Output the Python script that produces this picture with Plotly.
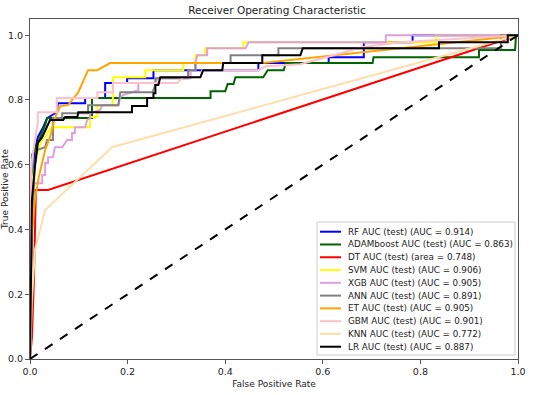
import plotly.graph_objects as go

# ---- data ----
rf_fpr = [0, 0.002, 0.006, 0.010, 0.016, 0.027, 0.035, 0.055, 0.057, 0.113, 0.113, 0.154, 0.154, 0.199, 0.199, 0.253, 0.253, 0.468, 0.468, 0.612, 0.612, 0.684, 0.684, 0.784, 0.784, 1.0]
rf_tpr = [0, 0.306, 0.491, 0.645, 0.685, 0.716, 0.744, 0.762, 0.790, 0.790, 0.806, 0.806, 0.852, 0.852, 0.867, 0.867, 0.892, 0.892, 0.914, 0.914, 0.932, 0.932, 0.978, 0.978, 1.0, 1.0]

ada_fpr = [0, 0.002, 0.004, 0.010, 0.031, 0.035, 0.127, 0.127, 0.370, 0.370, 0.400, 0.405, 0.417, 0.421, 0.478, 0.487, 0.520, 0.524, 0.702, 0.704, 0.920, 0.920, 0.994, 0.996, 1.0]
ada_tpr = [0, 0.336, 0.630, 0.645, 0.722, 0.744, 0.744, 0.806, 0.806, 0.827, 0.827, 0.849, 0.849, 0.870, 0.870, 0.892, 0.892, 0.914, 0.914, 0.932, 0.932, 0.954, 0.954, 1.0, 1.0]

dt_fpr = [0, 0.004, 0.008, 0.012, 0.037, 1.0]
dt_tpr = [0, 0.068, 0.244, 0.522, 0.522, 1.0]

svm_fpr = [0, 0.002, 0.004, 0.006, 0.014, 0.021, 0.031, 0.037, 0.045, 0.123, 0.123, 0.138, 0.138, 0.170, 0.170, 0.236, 0.236, 0.314, 0.314, 0.339, 0.339, 0.359, 0.359, 0.437, 0.437, 0.832, 0.832, 1.0]
svm_tpr = [0, 0.244, 0.491, 0.562, 0.623, 0.667, 0.685, 0.701, 0.716, 0.716, 0.747, 0.747, 0.784, 0.784, 0.870, 0.870, 0.892, 0.892, 0.914, 0.914, 0.938, 0.938, 0.960, 0.960, 0.978, 0.978, 1.0, 1.0]

xgb_fpr = [0, 0.002, 0.004, 0.025, 0.025, 0.031, 0.031, 0.037, 0.037, 0.047, 0.051, 0.066, 0.076, 0.086, 0.086, 0.092, 0.092, 0.113, 0.117, 0.123, 0.123, 0.144, 0.148, 0.181, 0.185, 0.191, 0.222, 0.222, 0.257, 0.261, 0.329, 0.329, 0.339, 0.339, 0.343, 0.363, 0.363, 0.442, 0.448, 0.729, 0.729, 1.0]
xgb_tpr = [0, 0.213, 0.543, 0.543, 0.568, 0.568, 0.605, 0.605, 0.623, 0.623, 0.654, 0.654, 0.676, 0.676, 0.698, 0.698, 0.716, 0.716, 0.738, 0.744, 0.759, 0.769, 0.784, 0.784, 0.809, 0.815, 0.830, 0.852, 0.852, 0.867, 0.867, 0.892, 0.892, 0.917, 0.938, 0.938, 0.960, 0.960, 0.978, 0.978, 1.0, 1.0]

ann_fpr = [0, 0.002, 0.006, 0.010, 0.014, 0.031, 0.035, 0.047, 0.047, 0.066, 0.066, 0.119, 0.119, 0.181, 0.185, 0.251, 0.257, 0.257, 0.324, 0.324, 0.339, 0.339, 0.411, 0.411, 0.509, 0.509, 0.965, 0.965, 1.0]
ann_tpr = [0, 0.244, 0.491, 0.599, 0.645, 0.654, 0.676, 0.676, 0.744, 0.744, 0.759, 0.759, 0.784, 0.784, 0.824, 0.824, 0.846, 0.867, 0.867, 0.892, 0.892, 0.914, 0.914, 0.938, 0.938, 0.960, 0.960, 1.0, 1.0]

et_fpr = [0, 0.002, 0.010, 0.018, 0.031, 0.041, 0.051, 0.062, 0.078, 0.099, 0.119, 0.138, 0.164, 0.476, 0.990, 1.0]
et_tpr = [0, 0.367, 0.491, 0.562, 0.645, 0.685, 0.744, 0.781, 0.784, 0.824, 0.892, 0.892, 0.914, 0.914, 0.997, 1.0]

gbm_fpr = [0, 0, 0.002, 0.004, 0.010, 0.016, 0.016, 0.055, 0.055, 0.138, 0.138, 0.170, 0.170, 0.302, 0.314, 0.349, 0.353, 0.468, 0.483, 0.554, 0.637, 0.678, 0.760, 0.965, 1.0]
gbm_tpr = [0, 0.182, 0.562, 0.614, 0.676, 0.728, 0.762, 0.762, 0.806, 0.806, 0.824, 0.824, 0.852, 0.852, 0.870, 0.870, 0.892, 0.892, 0.904, 0.910, 0.944, 0.963, 0.978, 0.997, 1.0]

knn_fpr = [0, 0.004, 0.010, 0.031, 0.168, 1.0]
knn_tpr = [0, 0.182, 0.336, 0.460, 0.654, 1.0]

lr_fpr = [0, 0.002, 0.004, 0.010, 0.016, 0.025, 0.035, 0.041, 0.068, 0.072, 0.097, 0.099, 0.209, 0.209, 0.240, 0.240, 0.253, 0.253, 0.257, 0.257, 0.263, 0.267, 0.349, 0.355, 0.394, 0.396, 0.476, 0.476, 0.554, 0.559, 0.838, 0.838, 0.979, 0.979, 1.0]
lr_tpr = [0, 0.367, 0.491, 0.593, 0.667, 0.685, 0.716, 0.738, 0.738, 0.747, 0.747, 0.762, 0.762, 0.781, 0.781, 0.806, 0.806, 0.821, 0.821, 0.846, 0.846, 0.870, 0.870, 0.892, 0.892, 0.914, 0.914, 0.938, 0.938, 0.960, 0.960, 0.978, 0.978, 1.0, 1.0]

names = [
    "RF AUC (test) (AUC = 0.914)",
    "ADAMboost AUC (test) (AUC = 0.863)",
    "DT AUC (test) (area = 0.748)",
    "SVM AUC (test) (AUC = 0.906)",
    "XGB AUC (test) (AUC = 0.905)",
    "ANN AUC (test) (AUC = 0.891)",
    "ET AUC (test) (AUC = 0.905)",
    "GBM AUC (test) (AUC = 0.901)",
    "KNN AUC (test) (AUC = 0.772)",
    "LR AUC (test) (AUC = 0.887)",
]
colors = ["blue", "darkgreen", "red", "yellow", "plum", "gray", "orange", "pink", "navajowhite", "black"]
series = [(rf_fpr, rf_tpr), (ada_fpr, ada_tpr), (dt_fpr, dt_tpr), (svm_fpr, svm_tpr),
          (xgb_fpr, xgb_tpr), (ann_fpr, ann_tpr), (et_fpr, et_tpr), (gbm_fpr, gbm_tpr),
          (knn_fpr, knn_tpr), (lr_fpr, lr_tpr)]

diag = [0, 1]
tick_vals = [0, 0.2, 0.4, 0.6, 0.8, 1.0]
tick_text = ["0.0", "0.2", "0.4", "0.6", "0.8", "1.0"]

FONT = "DejaVu Sans"
W, H = 554, 395
ML, MR, MT, MB = 30, 36, 19, 36
PW, PH = W - ML - MR, H - MT - MB


def px_x(px):
    return (px - ML) / PW


def px_y(py):
    return (H - MB - py) / PH


fig = go.Figure()
for (fx, ty), nm, c in zip(series, names, colors):
    fig.add_trace(go.Scatter(x=fx, y=ty, mode="lines", name=nm, showlegend=False,
                             line=dict(color=c, width=2)))
fig.add_trace(go.Scatter(x=diag, y=diag, mode="lines", showlegend=False,
                         line=dict(color="black", width=2, dash="dash")))

# matplotlib-style legend drawn in paper coordinates
shapes = [dict(type="rect", xref="paper", yref="paper",
               x0=px_x(317), x1=px_x(515), y0=px_y(355), y1=px_y(222),
               line=dict(color="#cccccc", width=1),
               fillcolor="rgba(255,255,255,0.85)", layer="above")]
annotations = []
row0, row_gap = 231.7, 12.78
for i, (nm, c) in enumerate(zip(names, colors)):
    yy = px_y(row0 + i * row_gap)
    shapes.append(dict(type="line", xref="paper", yref="paper",
                       x0=px_x(320), x1=px_x(341), y0=yy, y1=yy,
                       line=dict(color=c, width=2), layer="above"))
    annotations.append(dict(text=nm, xref="paper", yref="paper", x=px_x(346), y=yy,
                            xanchor="left", yanchor="middle", showarrow=False,
                            font=dict(family=FONT, size=8.8, color="#222")))

axis_common = dict(showgrid=False, zeroline=False, showline=True, mirror=True,
                   linecolor="#555", linewidth=1, ticks="outside", ticklen=4,
                   tickcolor="#555", automargin=False,
                   tickfont=dict(family=FONT, size=9.5, color="#222"))

fig.update_layout(
    width=W, height=H,
    margin=dict(l=ML, r=MR, t=MT, b=MB, autoexpand=False),
    paper_bgcolor="white", plot_bgcolor="white",
    title=dict(text="Receiver Operating Characteristic", x=0.5, xanchor="center",
               y=1 - 10 / H, yanchor="middle", yref="container", automargin=False,
               font=dict(family=FONT, size=10.5, color="#222")),
    xaxis=dict(range=[0, 1], tickvals=tick_vals, ticktext=tick_text,
               title=dict(text="False Positive Rate", standoff=4,
                          font=dict(family=FONT, size=9, color="#222")), **axis_common),
    yaxis=dict(range=[0, 1.05], tickvals=tick_vals, ticktext=tick_text,
               title=dict(text="True Positive Rate", standoff=2,
                          font=dict(family=FONT, size=9, color="#222")), **axis_common),
    shapes=shapes,
    annotations=annotations,
    showlegend=False,
)

fig.write_html("out.html", config={"displayModeBar": False, "staticPlot": True},
               post_script="document.body.style.margin='0';document.body.style.overflow='hidden';")
